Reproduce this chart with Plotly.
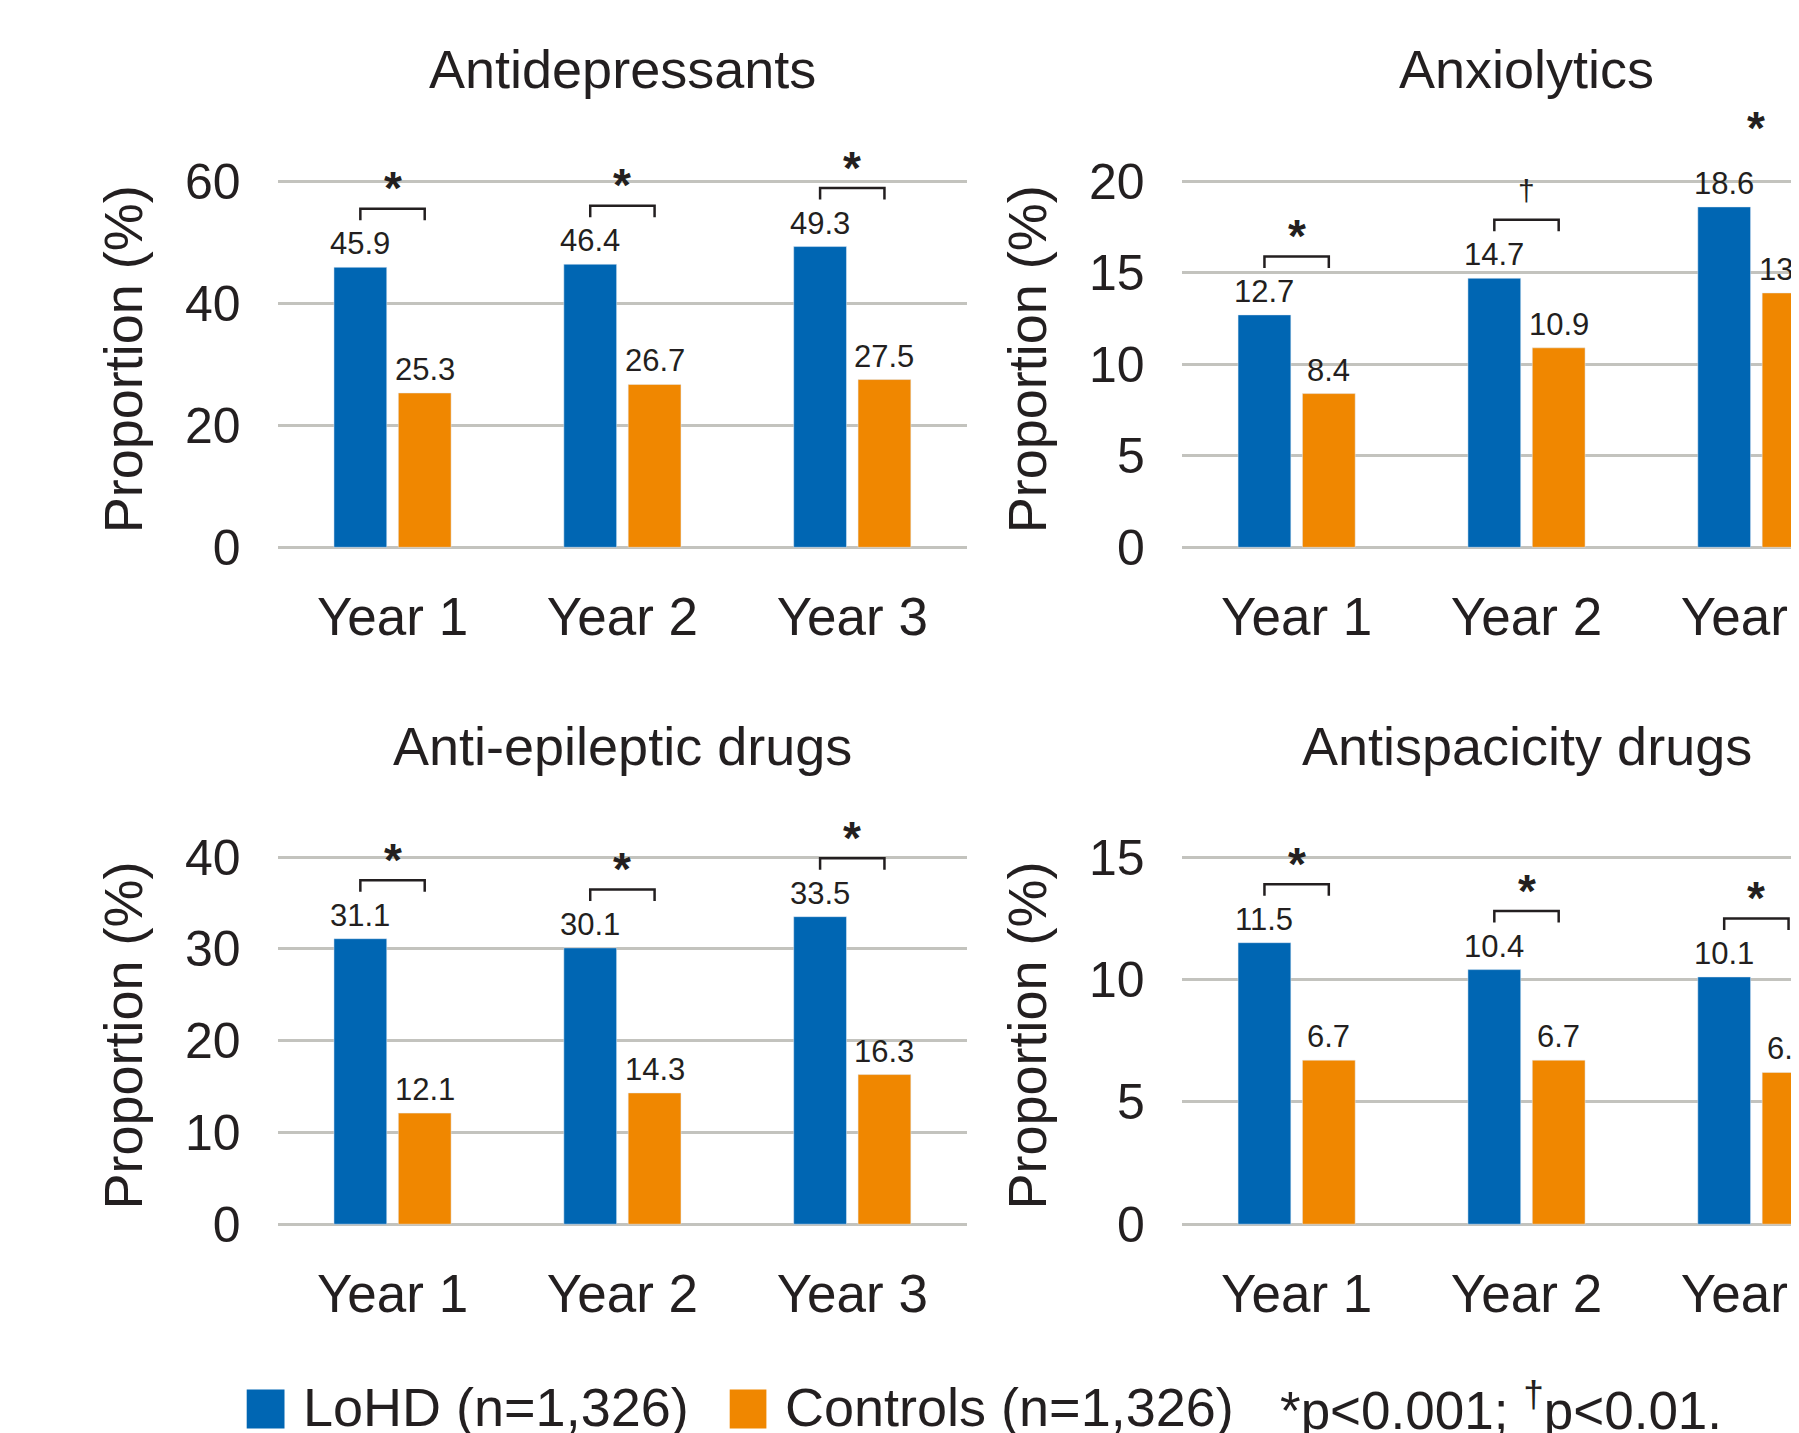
import plotly.graph_objects as go

W, H = 1799, 1433

years = ["Year 1", "Year 2", "Year 3"]
titles = ["Antidepressants", "Anxiolytics", "Anti-epileptic drugs", "Antispacicity drugs"]

antidep_lohd = [45.9, 46.4, 49.3]
antidep_ctrl = [25.3, 26.7, 27.5]
anxio_lohd = [12.7, 14.7, 18.6]
anxio_ctrl = [8.4, 10.9, 13.9]
antiep_lohd = [31.1, 30.1, 33.5]
antiep_ctrl = [12.1, 14.3, 16.3]
antisp_lohd = [11.5, 10.4, 10.1]
antisp_ctrl = [6.7, 6.7, 6.2]

antidep_sig = ["*", "*", "*"]
anxio_sig = ["*", "†", "*"]
antiep_sig = ["*", "*", "*"]
antisp_sig = ["*", "*", "*"]

y_max = [60, 20, 40, 15]
y_dtick = [20, 5, 10, 5]

lohd_name = "LoHD (n=1,326)"
ctrl_name = "Controls (n=1,326)"
note_text = "*p&lt;0.001; <sup>†</sup>p&lt;0.01."

BLUE = "#0066B3"
ORANGE = "#F08700"
GRID = "#C3C3BE"
TXT = "#231F20"
FONT = "Liberation Sans, Arial, sans-serif"

panels = [
    (antidep_lohd, antidep_ctrl, antidep_sig),
    (anxio_lohd, anxio_ctrl, anxio_sig),
    (antiep_lohd, antiep_ctrl, antiep_sig),
    (antisp_lohd, antisp_ctrl, antisp_sig),
]

# page offset (body margin) compensation
OX, OY = 8, 8

# layout geometry in page pixels
left_x = (277.6, 967.2)
right_x0 = 1181.7
panel_w = left_x[1] - left_x[0]
top_y = (181.3, 547.3)   # (max gridline, zero line)
bot_y = (857.0, 1224.2)
PAD = 3  # px so that end gridlines are drawn

def px(v):
    return (v - OX) / W

def py(v):
    return 1 - (v - OY) / H

x_domains = [
    [px(left_x[0]), px(left_x[1])],
    [px(right_x0), 1.0],
    [px(left_x[0]), px(left_x[1])],
    [px(right_x0), 1.0],
]
right_span = 3 * (W + OX - right_x0) / panel_w
x_ranges = [[-0.5, 2.5], [-0.5, -0.5 + right_span], [-0.5, 2.5], [-0.5, -0.5 + right_span]]
ygeo = [top_y, top_y, bot_y, bot_y]

fig = go.Figure()
xs = [0, 1, 2]
shapes = []
annotations = []
OFF = 0.14

for k, (lohd, ctrl, sig) in enumerate(panels):
    sfx = "" if k == 0 else str(k + 1)
    xa, ya = "x" + sfx, "y" + sfx
    ytop, yzero = ygeo[k]
    ppu = (yzero - ytop) / y_max[k]
    pad_u = PAD / ppu
    fig.add_trace(go.Bar(
        x=xs, y=lohd, name=lohd_name, marker_color=BLUE, xaxis=xa, yaxis=ya,
        cliponaxis=False, showlegend=False))
    fig.add_trace(go.Bar(
        x=xs, y=ctrl, name=ctrl_name, marker_color=ORANGE, xaxis=xa, yaxis=ya,
        cliponaxis=False, showlegend=False))
    for i in xs:
        # value labels
        for vals, dx in ((lohd, -OFF), (ctrl, OFF)):
            annotations.append(dict(
                x=i + dx, y=vals[i], xref=xa, yref=ya, text=f"{vals[i]:.1f}",
                showarrow=False, xanchor="center", yanchor="bottom", yshift=4,
                font=dict(size=31, color=TXT, family=FONT)))
        # significance bracket
        shapes.append(dict(
            type="path", xref=xa, yref=ya, ysizemode="pixel", yanchor=lohd[i],
            path=f"M {i-OFF},47 L {i-OFF},58.5 L {i+OFF},58.5 L {i+OFF},47",
            line=dict(color=TXT, width=2.5)))
        s = sig[i]
        annotations.append(dict(
            x=i, y=lohd[i], xref=xa, yref=ya,
            text="<b>*</b>" if s == "*" else s, showarrow=False,
            yanchor="middle", yshift=79 if s == "*" else 88,
            font=dict(size=46 if s == "*" else 30, color=TXT, family=FONT)))

    fig.layout["xaxis" + sfx] = dict(
        domain=x_domains[k], range=x_ranges[k], anchor=ya, automargin=False,
        tickmode="array", tickvals=xs, ticktext=years, showgrid=False,
        showline=False, zeroline=False, ticks="", ticklabelstandoff=31,
        ticklabeloverflow="allow",
        tickfont=dict(size=53, color=TXT, family=FONT))
    fig.layout["yaxis" + sfx] = dict(
        domain=[py(yzero + PAD), py(ytop - PAD)], range=[-pad_u, y_max[k] + pad_u],
        anchor=xa, automargin=False,
        tickmode="linear", dtick=y_dtick[k], tick0=0,
        showgrid=True, gridcolor=GRID, gridwidth=2.5,
        showline=False, zeroline=False, ticks="", ticklabelstandoff=36,
        tickfont=dict(size=50, color=TXT, family=FONT))

    # panel title (centered on full panel width)
    cx = px(left_x[0] + panel_w / 2) if k % 2 == 0 else px(right_x0 + panel_w / 2)
    ty = 69 if k < 2 else 746
    annotations.append(dict(
        x=cx, y=py(ty), xref="paper", yref="paper", text=titles[k], showarrow=False,
        xanchor="center", yanchor="middle",
        font=dict(size=54, color=TXT, family=FONT)))
    # y-axis title
    yt_x = 123 if k % 2 == 0 else 1027
    yc = (ytop + yzero) / 2 - 5
    annotations.append(dict(
        x=px(yt_x), y=py(yc), xref="paper", yref="paper", text="Proportion (%)",
        showarrow=False, textangle=-90, xanchor="center", yanchor="middle",
        font=dict(size=54, color=TXT, family=FONT)))

# legend (manual, bottom)
leg_y0, leg_y1 = 1389.4, 1428.4
for (x0, x1, col, label, tx) in [
    (246.7, 284.5, BLUE, lohd_name, 301),
    (729.7, 766.4, ORANGE, ctrl_name, 783),
]:
    shapes.append(dict(type="rect", xref="paper", yref="paper",
                       x0=px(x0), x1=px(x1), y0=py(leg_y1), y1=py(leg_y0),
                       fillcolor=col, line=dict(width=0)))
    annotations.append(dict(x=px(tx), y=py((leg_y0 + leg_y1) / 2 - 2), xref="paper", yref="paper",
                            text=label, showarrow=False, xanchor="left", yanchor="middle",
                            font=dict(size=54, color=TXT, family=FONT)))
annotations.append(dict(x=px(1278), y=py((leg_y0 + leg_y1) / 2 - 2), xref="paper", yref="paper",
                        text=note_text, showarrow=False, xanchor="left", yanchor="middle",
                        font=dict(size=53, color=TXT, family=FONT)))

fig.update_layout(
    width=W, height=H, margin=dict(l=0, r=0, t=0, b=0, autoexpand=False),
    paper_bgcolor="white", plot_bgcolor="white",
    barmode="group", bargap=0.44, bargroupgap=0.18,
    shapes=shapes, annotations=annotations, showlegend=False,
    font=dict(family=FONT, color=TXT),
)

fig.write_html("out.html")
